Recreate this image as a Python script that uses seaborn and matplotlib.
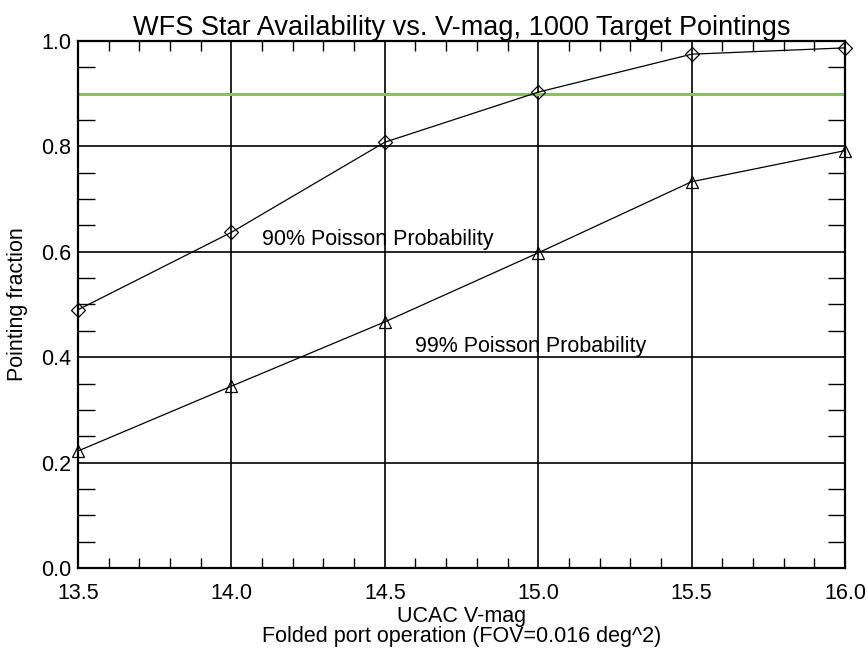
import matplotlib
matplotlib.use("Agg")
import matplotlib.pyplot as plt
from matplotlib.ticker import MultipleLocator
import seaborn as sns
import pandas as pd

# V-magnitude limits and the fraction of pointings with a usable WFS star
vmag = [13.5, 14.0, 14.5, 15.0, 15.5, 16.0]
frac_90 = [0.490, 0.637, 0.808, 0.903, 0.975, 0.987]
frac_99 = [0.222, 0.345, 0.467, 0.598, 0.733, 0.792]
requirement = 0.9

sns.set_theme(style="ticks")
plt.rcParams["font.family"] = ["Liberation Sans", "DejaVu Sans"]
plt.rcParams["text.color"] = "black"
plt.rcParams["axes.labelcolor"] = "black"

df = pd.DataFrame({"vmag": vmag, "p90": frac_90, "p99": frac_99})

fig = plt.figure(figsize=(8.68, 6.48), dpi=100)
ax = fig.add_axes([0.0899, 0.1235, 0.8836, 0.8132])

ax.set_xlim(13.5, 16.0)
ax.set_ylim(0.0, 1.0)

# grid lines at the major ticks
for xv in [14.0, 14.5, 15.0, 15.5]:
    ax.axvline(xv, color="black", lw=1.2, zorder=1)
for yv in [0.2, 0.4, 0.6, 0.8]:
    ax.axhline(yv, color="black", lw=1.2, zorder=1)
ax.axhline(requirement, color="#8cbf62", lw=2.2, zorder=1)

sns.lineplot(data=df, x="vmag", y="p90", ax=ax, color="black", lw=0.9,
             marker="D", markersize=7, markerfacecolor="none",
             markeredgecolor="black", markeredgewidth=0.9, zorder=3,
             clip_on=False)
sns.lineplot(data=df, x="vmag", y="p99", ax=ax, color="black", lw=0.9,
             marker="^", markersize=9, markerfacecolor="none",
             markeredgecolor="black", markeredgewidth=0.9, zorder=3,
             clip_on=False)

ax.text(14.1, 0.612, "90% Poisson Probability", fontsize=15.5, color="black")
ax.text(14.6, 0.410, "99% Poisson Probability", fontsize=15.5, color="black")

ax.xaxis.set_major_locator(MultipleLocator(0.5))
ax.yaxis.set_major_locator(MultipleLocator(0.2))
ax.xaxis.set_minor_locator(MultipleLocator(0.1))
ax.yaxis.set_minor_locator(MultipleLocator(0.05))
ax.set_xticklabels([f"{v:.1f}" for v in ax.get_xticks()])
ax.set_yticklabels([f"{v:.1f}" for v in ax.get_yticks()])

ax.tick_params(axis="both", which="major", length=0, labelsize=15.5,
               colors="black")
ax.tick_params(axis="x", which="major", pad=11)
ax.tick_params(axis="y", which="major", pad=5)
ax.tick_params(axis="x", which="minor", direction="in", length=7, width=1,
               top=True, bottom=True, color="black")
ax.tick_params(axis="y", which="minor", direction="in", length=12, width=1,
               left=True, right=True, color="black")

for s in ax.spines.values():
    s.set_visible(True)
    s.set_color("black")
    s.set_linewidth(1.6)

ax.set_xlabel("UCAC V-mag\nFolded port operation (FOV=0.016 deg^2)",
              fontsize=15.5, labelpad=1, linespacing=0.95)
ax.set_ylabel("Pointing fraction", fontsize=15.5, labelpad=9)
ax.set_title("WFS Star Availability vs. V-mag, 1000 Target Pointings",
             fontsize=19.5, pad=4)

fig.savefig("out.png", dpi=100, facecolor="white")
